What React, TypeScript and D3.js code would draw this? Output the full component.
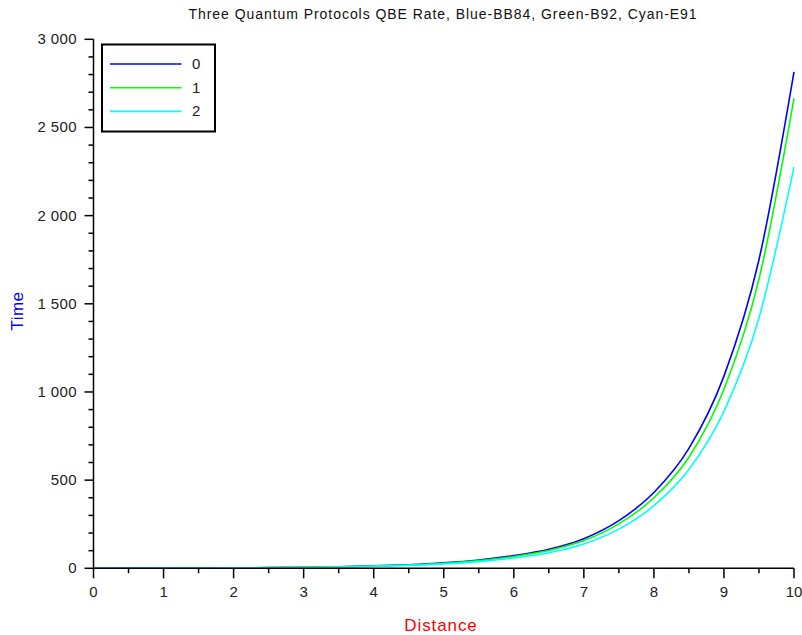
import React from "react";
import * as d3 from "d3";

const distance = [0, 0.5, 1, 1.5, 2, 2.5, 3, 3.5, 4, 4.5, 5, 5.5, 6, 6.5, 7, 7.5, 8, 8.5, 9, 9.5, 10];
const bb84 = [0.5, 0.8, 1.2, 1.8, 2.7, 4, 6, 9, 13.5, 20.5, 31, 47, 72, 108, 168, 270, 430, 680, 1090, 1750, 2815];
const b92 = [0.5, 0.7, 1.1, 1.7, 2.5, 3.7, 5.6, 8.4, 12.6, 19, 29, 44, 67, 101, 157, 252, 400, 630, 1015, 1640, 2665];
const e91 = [0.4, 0.6, 1.0, 1.5, 2.2, 3.3, 4.9, 7.3, 11, 16.5, 25, 38, 58, 88, 138, 222, 355, 560, 890, 1420, 2275];

const seriesNames = ["0", "1", "2"];
const seriesColors = ["#0000ff", "#00ff00", "#00ffff"];
const seriesValues = [bb84, b92, e91];

const xTicks = [0, 1, 2, 3, 4, 5, 6, 7, 8, 9, 10];
const xMinorTicks = [0.5, 1.5, 2.5, 3.5, 4.5, 5.5, 6.5, 7.5, 8.5, 9.5];
const yTicks = [0, 500, 1000, 1500, 2000, 2500, 3000];

const titleText = "Three Quantum Protocols QBE Rate, Blue-BB84, Green-B92, Cyan-E91";
const xLabel = "Distance";
const yLabel = "Time";

const W = 802;
const H = 635;
const FONT = "'Liberation Sans', Arial, Helvetica, sans-serif";

export default function App() {
  const x = d3.scaleLinear().domain([0, 10]).range([93.5, 794]);
  const y = d3.scaleLinear().domain([0, 3000]).range([568.3, 39.3]);
  const locale = d3.formatLocale({ decimal: ".", thousands: " ", grouping: [3], currency: ["", ""] });
  const fmt = locale.format(",");

  const yMinor: number[] = [];
  for (let v = 0; v <= 3000; v += 100) if (v % 500 !== 0) yMinor.push(v);

  const line = d3
    .line<number>()
    .x((_, i) => x(distance[i]))
    .y((d) => y(d))
    .curve(d3.curveMonotoneX);

  const x0 = x(0);
  const y0 = y(0);

  return (
    <svg
      width={W}
      height={H}
      style={{ position: "absolute", left: 0, top: 0, background: "#fff" }}
      fontFamily={FONT}
    >
      <rect x={0} y={0} width={W} height={H} fill="#fff" />
      <text x={443} y={19} textAnchor="middle" fontSize={14} letterSpacing={0.95} fill="#111">
        {titleText}
      </text>

      {seriesValues.map((vals, i) => (
        <path key={i} d={line(vals) || ""} fill="none" stroke={seriesColors[i]} strokeWidth={1.6} />
      ))}

      {/* axes */}
      <line x1={x0} x2={x(10)} y1={y0} y2={y0} stroke="#000" strokeWidth={1.5} />
      <line x1={x0} x2={x0} y1={y(3000)} y2={y0} stroke="#000" strokeWidth={1.5} />

      {xTicks.map((t) => (
        <g key={"xt" + t}>
          <line x1={x(t)} x2={x(t)} y1={y0} y2={y0 + 10} stroke="#000" strokeWidth={1.5} />
          <text x={x(t)} y={597} textAnchor="middle" fontSize={15} fill="#222">
            {fmt(t)}
          </text>
        </g>
      ))}
      {xMinorTicks.map((t) => (
        <line key={"xm" + t} x1={x(t)} x2={x(t)} y1={y0} y2={y0 + 5} stroke="#000" strokeWidth={1.5} />
      ))}

      {yTicks.map((t) => (
        <g key={"yt" + t}>
          <line x1={x0 - 9} x2={x0} y1={y(t)} y2={y(t)} stroke="#000" strokeWidth={1.5} />
          <text x={77} y={y(t) + 5} textAnchor="end" fontSize={15} letterSpacing={0.4} fill="#222">
            {fmt(t)}
          </text>
        </g>
      ))}
      {yMinor.map((t) => (
        <line key={"ym" + t} x1={x0 - 5} x2={x0} y1={y(t)} y2={y(t)} stroke="#000" strokeWidth={1.5} />
      ))}

      <text x={441} y={631} textAnchor="middle" fontSize={17} letterSpacing={0.9} fill="#ff0000">
        {xLabel}
      </text>
      <text
        transform={`translate(23,${311}) rotate(-90)`}
        textAnchor="middle"
        fontSize={17}
        letterSpacing={0.5}
        fill="#0000ff"
      >
        {yLabel}
      </text>

      {/* legend */}
      <rect x={102} y={44.5} width={113} height={87} fill="#fff" stroke="#000" strokeWidth={2} />
      {seriesNames.map((n, i) => (
        <g key={"lg" + n}>
          <line x1={110} x2={181.5} y1={64 + i * 23.7} y2={64 + i * 23.7} stroke={seriesColors[i]} strokeWidth={1.6} />
          <text x={192} y={64 + i * 23.7 + 5} fontSize={15} fill="#222">
            {n}
          </text>
        </g>
      ))}
    </svg>
  );
}
